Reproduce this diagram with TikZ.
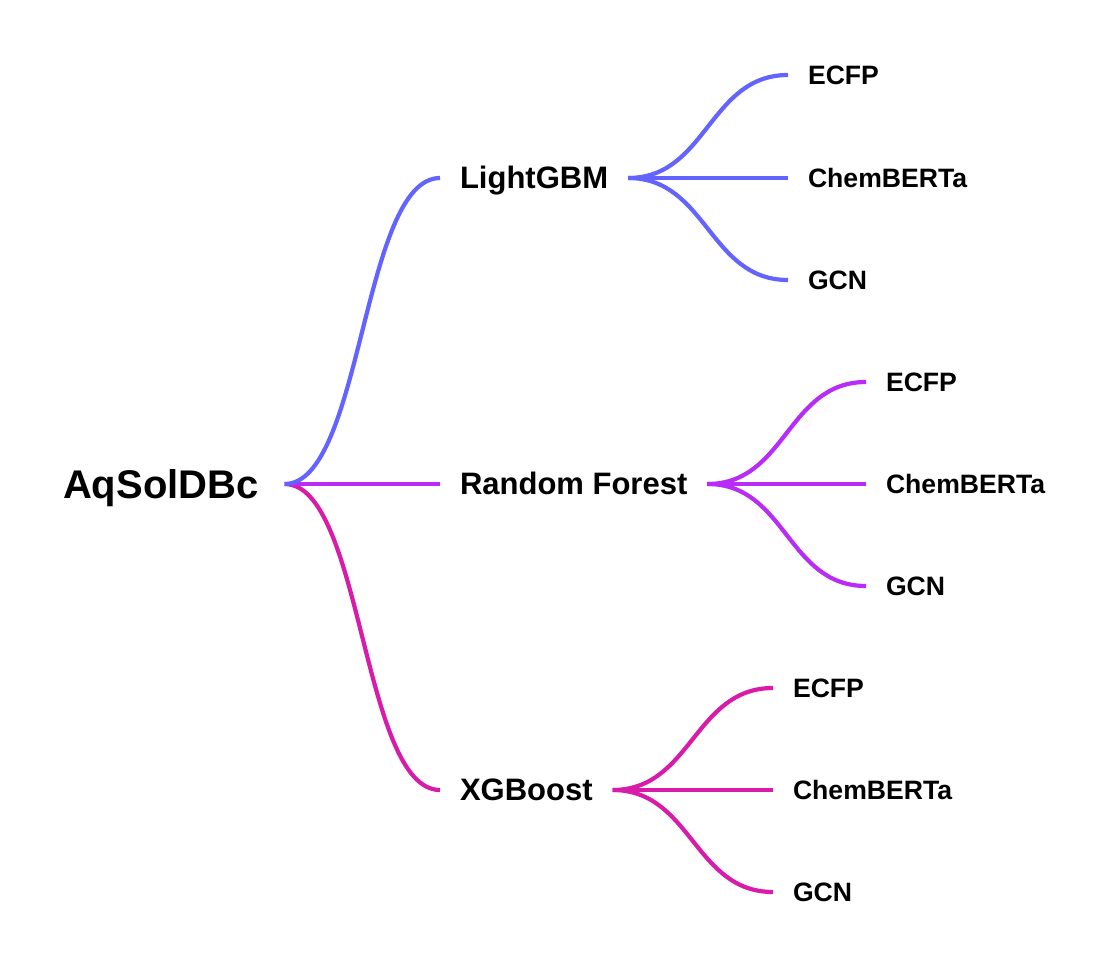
\documentclass[tikz,border=0pt]{standalone}
\usepackage{fontspec}
\setmainfont{Liberation Sans}
\definecolor{azul}{HTML}{6363FF}
\definecolor{violeta}{HTML}{B92CF7}
\definecolor{rosa}{HTML}{D91BA9}
\begin{document}
\begin{tikzpicture}[x=0.5pt,y=-0.5pt,
  raiz/.style={font=\bfseries\fontsize{20}{24}\selectfont, inner sep=0pt, outer xsep=13pt, text height=14pt, text depth=0pt, anchor=west},
  modelo/.style={font=\bfseries\fontsize{15.5}{18}\selectfont, inner sep=0pt, outer xsep=10pt, text height=10.9pt, text depth=0pt, anchor=west},
  rasgo/.style={font=\bfseries\fontsize{13.3}{16}\selectfont, inner sep=0pt, outer xsep=10pt, text height=9.3pt, text depth=0pt, anchor=west},
  rama/.style={line width=2.1pt}]
  \useasboundingbox (0,0) rectangle (1107,968);
  % Raíz y modelos
  \node[raiz] (aq) at (37,484) {AqSolDBc};
  \node[modelo] (lgbm) at (440,178) {LightGBM};
  \node[modelo] (rf) at (440,484) {Random Forest};
  \node[modelo] (xgb) at (440,790) {XGBoost};
  % Representaciones de LightGBM
  \node[rasgo] (lgbmA) at (788,75) {ECFP};
  \node[rasgo] (lgbmB) at (788,178) {ChemBERTa};
  \node[rasgo] (lgbmC) at (788,280) {GCN};
  % Representaciones de Random Forest
  \node[rasgo] (rfA) at (866,382) {ECFP};
  \node[rasgo] (rfB) at (866,484) {ChemBERTa};
  \node[rasgo] (rfC) at (866,586) {GCN};
  % Representaciones de XGBoost
  \node[rasgo] (xgbA) at (773,688) {ECFP};
  \node[rasgo] (xgbB) at (773,790) {ChemBERTa};
  \node[rasgo] (xgbC) at (773,892) {GCN};
  % Ramas desde la raíz
  \draw[rama, rosa] (aq.east) .. controls +(78,0) and +(-78,0) .. (xgb.west);
  \draw[rama, violeta] (aq.east) .. controls +(78,0) and +(-78,0) .. (rf.west);
  \draw[rama, azul] (aq.east) .. controls +(78,0) and +(-78,0) .. (lgbm.west);
  % Ramas de LightGBM
  \draw[rama, azul] (lgbm.east) .. controls +(79,0) and +(-79,0) .. (lgbmA.west);
  \draw[rama, azul] (lgbm.east) -- (lgbmB.west);
  \draw[rama, azul] (lgbm.east) .. controls +(79,0) and +(-79,0) .. (lgbmC.west);
  % Ramas de Random Forest
  \draw[rama, violeta] (rf.east) .. controls +(79,0) and +(-79,0) .. (rfA.west);
  \draw[rama, violeta] (rf.east) -- (rfB.west);
  \draw[rama, violeta] (rf.east) .. controls +(79,0) and +(-79,0) .. (rfC.west);
  % Ramas de XGBoost
  \draw[rama, rosa] (xgb.east) .. controls +(79,0) and +(-79,0) .. (xgbA.west);
  \draw[rama, rosa] (xgb.east) -- (xgbB.west);
  \draw[rama, rosa] (xgb.east) .. controls +(79,0) and +(-79,0) .. (xgbC.west);
\end{tikzpicture}
\end{document}
